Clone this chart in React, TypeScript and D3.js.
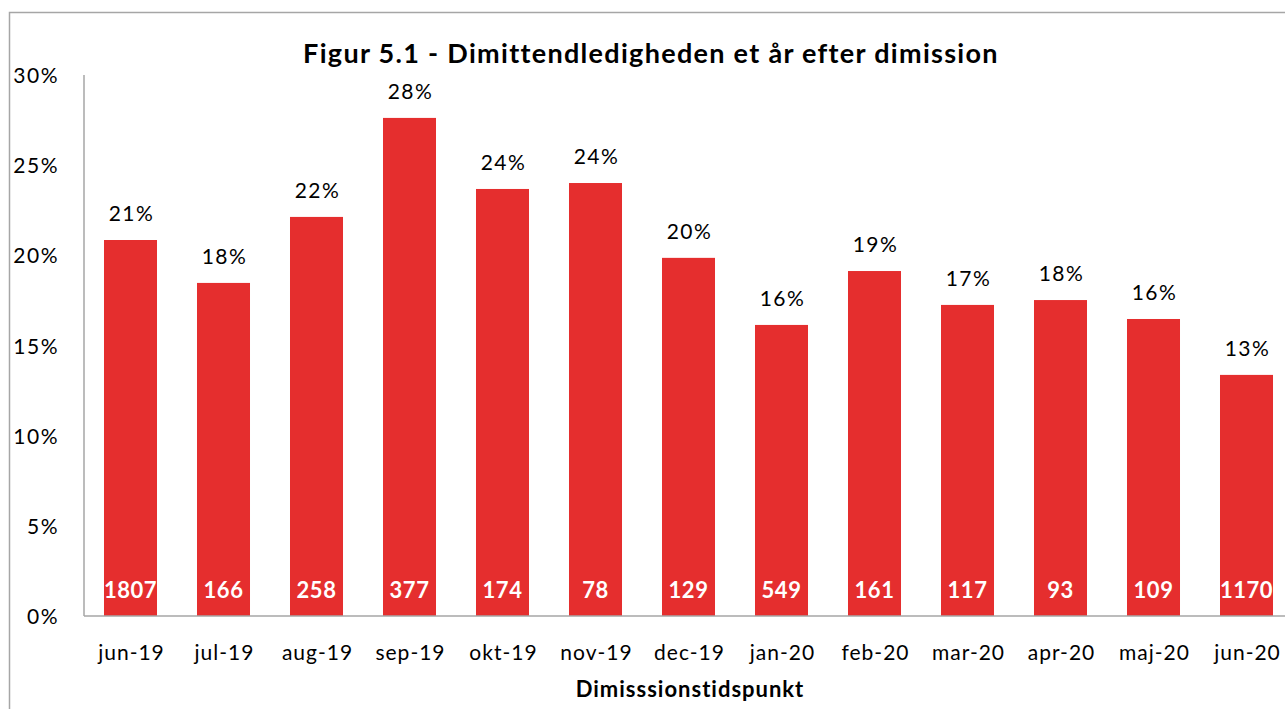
import React, { useEffect, useRef } from 'react'
import * as d3 from 'd3'

const months = ['jun-19', 'jul-19', 'aug-19', 'sep-19', 'okt-19', 'nov-19', 'dec-19', 'jan-20', 'feb-20', 'mar-20', 'apr-20', 'maj-20', 'jun-20']
const rates = [0.2085, 0.1847, 0.2213, 0.2762, 0.2368, 0.2401, 0.1986, 0.1614, 0.1913, 0.1725, 0.1752, 0.1647, 0.1337]
const counts = [1807, 166, 258, 377, 174, 78, 129, 549, 161, 117, 93, 109, 1170]
const yTicks = [0, 0.05, 0.1, 0.15, 0.2, 0.25, 0.3]

const W = 1285
const H = 709
const FONT = 'Lato, "Open Sans", sans-serif'

const App = () => {
  const ref = useRef<SVGSVGElement>(null)

  useEffect(() => {
    const svg = d3.select(ref.current)
    svg.selectAll('*').remove()

    const margin = { top: 75, left: 84, bottom: 93 }
    const x = d3.scaleBand().domain(months).range([margin.left, margin.left + 93 * months.length]).paddingInner(0.43).paddingOuter(0.215)
    const y = d3.scaleLinear().domain([0, 0.3]).range([H - margin.bottom, margin.top])
    const pct = d3.format('.0%')

    // outer frame
    svg.append('rect')
      .attr('x', 9.5).attr('y', 12.5)
      .attr('width', W + 20).attr('height', H + 20)
      .attr('fill', 'none').attr('stroke', '#a6a6a6').attr('stroke-width', 1.5)

    svg.append('text')
      .attr('x', 651).attr('y', 63)
      .attr('text-anchor', 'middle')
      .style('font', `bold 27px ${FONT}`)
      .style('letter-spacing', '1.3px')
      .attr('fill', '#000')
      .text('Figur 5.1 - Dimittendledigheden et år efter dimission')

    svg.selectAll('.bar')
      .data(rates)
      .enter().append('rect')
      .attr('class', 'bar')
      .attr('x', (d, i) => x(months[i]))
      .attr('width', x.bandwidth())
      .attr('y', d => y(d))
      .attr('height', d => y(0) - y(d))
      .attr('fill', '#e52e2e')

    svg.selectAll('.label')
      .data(rates)
      .enter().append('text')
      .attr('class', 'label')
      .attr('x', (d, i) => x(months[i]) + x.bandwidth() / 2 + 1)
      .attr('y', d => y(d) - 19)
      .attr('text-anchor', 'middle')
      .style('font', `21px ${FONT}`)
      .style('letter-spacing', '1.5px')
      .attr('fill', '#000')
      .text(d => pct(d))

    svg.selectAll('.count')
      .data(counts)
      .enter().append('text')
      .attr('class', 'count')
      .attr('x', (d, i) => x(months[i]) + x.bandwidth() / 2)
      .attr('y', y(0) - 18)
      .attr('text-anchor', 'middle')
      .style('font', `bold 22px ${FONT}`)
      .style('letter-spacing', '0.5px')
      .attr('fill', '#fff')
      .text(d => d)

    // axes
    svg.append('line')
      .attr('x1', margin.left).attr('x2', W)
      .attr('y1', y(0)).attr('y2', y(0))
      .attr('stroke', '#a6a6a6').attr('stroke-width', 1.5)
    svg.append('line')
      .attr('x1', margin.left).attr('x2', margin.left)
      .attr('y1', y(0.3)).attr('y2', y(0))
      .attr('stroke', '#a6a6a6').attr('stroke-width', 1.5)

    svg.selectAll('.ytick')
      .data(yTicks)
      .enter().append('text')
      .attr('class', 'ytick')
      .attr('x', 59)
      .attr('y', d => y(d) + 8)
      .attr('text-anchor', 'end')
      .style('font', `21px ${FONT}`)
      .style('letter-spacing', '1.5px')
      .attr('fill', '#000')
      .text(d => pct(d))

    svg.selectAll('.xtick')
      .data(months)
      .enter().append('text')
      .attr('class', 'xtick')
      .attr('x', d => x(d) + x.bandwidth() / 2 + 1)
      .attr('y', 660)
      .attr('text-anchor', 'middle')
      .style('font', `21px ${FONT}`)
      .style('letter-spacing', '1px')
      .attr('fill', '#000')
      .text(d => d)

    svg.append('text')
      .attr('x', 690).attr('y', 697)
      .attr('text-anchor', 'middle')
      .style('font', `bold 22px ${FONT}`)
      .style('letter-spacing', '1px')
      .attr('fill', '#000')
      .text('Dimisssionstidspunkt')
  }, [])

  return <svg ref={ref} width={W} height={H} style={{ position: 'absolute', left: 0, top: 0, background: '#fff' }} />
}

export default App
